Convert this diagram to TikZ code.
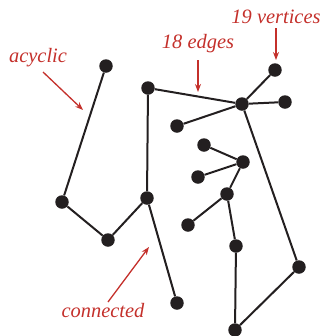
\documentclass[tikz,border=0pt]{standalone}
\usepackage{fontspec}
\setmainfont{Liberation Serif}
\usetikzlibrary{arrows.meta}
\definecolor{ink}{HTML}{231F20}
\definecolor{rd}{HTML}{C4302B}
\tikzset{
  vtx/.style={circle,fill=ink,inner sep=0pt,minimum size=13.5bp},
  edge/.style={line width=2bp,ink},
  note/.style={font=\fontsize{20.5}{22}\selectfont\itshape,text=rd,inner sep=0pt},
  point/.style={-{Stealth[length=8bp,width=6bp]},line width=1.3bp,rd}
}

\begin{document}
\begin{tikzpicture}[x=1bp,y=-1bp]
\useasboundingbox (0,0) rectangle (325,336);
% ================= vertices =================
\node[vtx] (v1) at (106,66) {};
\node[vtx] (v2) at (148,88) {};
\node[vtx] (v3) at (275,70) {};
\node[vtx] (v4) at (242,104) {};
\node[vtx] (v5) at (285,102) {};
\node[vtx] (v6) at (177,126) {};
\node[vtx] (v7) at (204,145) {};
\node[vtx] (v8) at (243,162) {};
\node[vtx] (v9) at (198,177) {};
\node[vtx] (v10) at (227,194) {};
\node[vtx] (v11) at (62,202) {};
\node[vtx] (v12) at (147,198) {};
\node[vtx] (v13) at (108,240) {};
\node[vtx] (v14) at (188,225) {};
\node[vtx] (v15) at (236,246) {};
\node[vtx] (v16) at (299,267) {};
\node[vtx] (v17) at (177,303) {};
\node[vtx] (v18) at (235,330) {};
% ================= edges =================
\foreach \a/\b in {v1/v11, v11/v13, v13/v12, v2/v12, v12/v17, v2/v4, v4/v3, v4/v5, v4/v6,
                   v4/v16, v16/v18, v18/v15, v15/v10, v10/v8, v8/v7, v8/v9, v10/v14}
  \draw[edge] (\a) -- (\b);
% ================= annotations =================
\node[note] (acyc) at (38,58) {acyclic};
\node[note] (nedge) at (198,44) {18 edges};
\node[note] (nvert) at (276,17) {19 vertices};
\node[note] (conn) at (103,311) {connected};
\coordinate (acycfrom) at (43,72);   \coordinate (acycto) at (83,110);
\coordinate (edgefrom) at (198,60);  \coordinate (edgeto) at (198,92);
\coordinate (vertfrom) at (276,28);  \coordinate (vertto) at (276,60);
\coordinate (connfrom) at (108,302); \coordinate (connto) at (149,247);
\draw[point] (acycfrom) -- (acycto);
\draw[point] (edgefrom) -- (edgeto);
\draw[point] (vertfrom) -- (vertto);
\draw[point] (connfrom) -- (connto);
\end{tikzpicture}
\end{document}
